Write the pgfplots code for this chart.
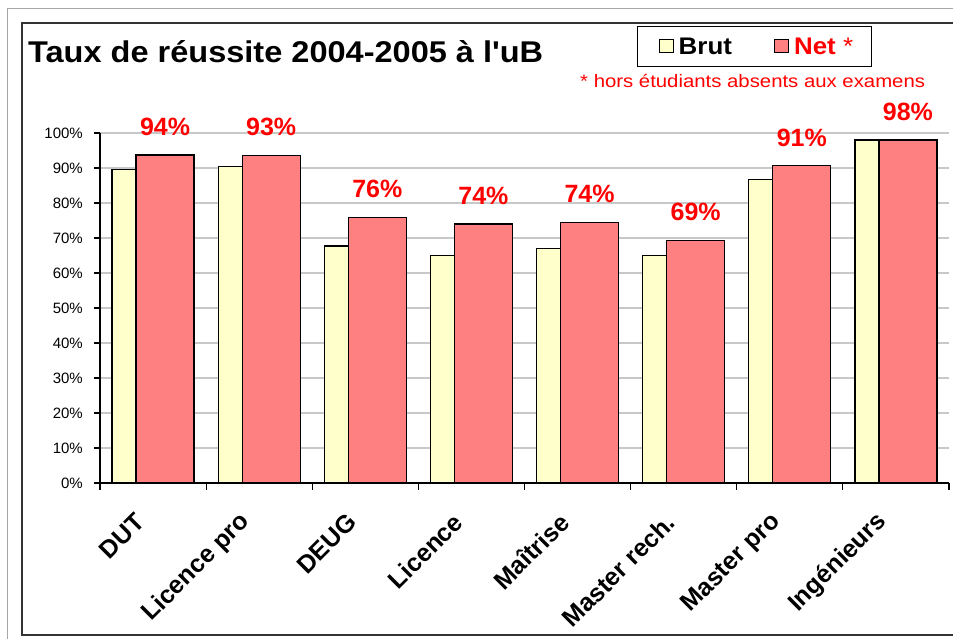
\documentclass[border=0pt]{standalone}
\usepackage{fontspec}
\setmainfont{Liberation Sans}
\usepackage{pgfplots}
\pgfplotsset{compat=1.18}
\definecolor{brut}{HTML}{FFFFCC}
\definecolor{net}{HTML}{FF8080}
\definecolor{gridc}{HTML}{C8C8C8}
\begin{document}
\begin{tikzpicture}
\useasboundingbox (0,0) rectangle (953pt,639pt);
\fill[white] (0,0) rectangle (953pt,639pt);
\draw[gray!70, line width=1pt] (7pt,0) -- (7pt,630pt) -- (960pt,630pt);
\draw[black!80, line width=1.6pt] (960pt,4pt) -- (22pt,4pt) -- (22pt,616pt) -- (960pt,616pt);
\node[anchor=base west, inner sep=0pt, font=\fontsize{30}{30}\selectfont\bfseries] at (28pt,576pt) {\scalebox{1.084}[1]{Taux de réussite 2004-2005 à l\textquotesingle uB}};
\node[anchor=base west, inner sep=0pt, text=red, font=\fontsize{18}{18}\selectfont] at (580pt,551pt) {\scalebox{1.13}[1]{* hors étudiants absents aux examens}};
\begin{axis}[
  at={(100pt,156pt)}, anchor=south west,
  scale only axis, width=849pt, height=350pt,
  xmin=-0.5, xmax=7.5, ymin=0, ymax=100,
  axis x line*=bottom, axis y line*=left,
  axis line style={line width=1.3pt, black},
  ytick={0,10,...,100},
  yticklabel={\pgfmathprintnumber{\tick}\%},
  /pgf/number format/assume math mode=true,
  yticklabel style={font=\fontsize{15}{15}\selectfont, inner sep=0pt, xshift=-11pt},
  ymajorgrids, grid style={gridc, line width=1.2pt},
  tick align=outside,
  major tick length=6pt,
  minor tick length=7pt,
  tick style={black, line width=1.2pt},
  xtick={0,...,7},
  xticklabels={DUT, Licence pro, DEUG, Licence, Maîtrise, Master rech., Master pro, Ingénieurs},
  major x tick style={draw=none},
  minor xtick={-0.5,0.5,...,7.5},
  minor x tick style={black, line width=1.2pt},
  xticklabel style={xshift=-13pt, yshift=-29pt, rotate=45, anchor=east, inner sep=0pt, font=\fontsize{25}{25}\selectfont\bfseries},
  clip=false,
  legend style={at={(0.6325,1.3057)}, anchor=north west, draw=black, line width=1.2pt,
    font=\fontsize{24}{24}\selectfont\bfseries, legend columns=2,
    inner xsep=13pt, inner ysep=9pt,
    nodes={inner xsep=5pt, inner ysep=2pt},
    /tikz/every even column/.append style={column sep=29pt}},
  legend image code/.code={\path (0pt,0pt); \draw[#1, line width=1pt] (8pt,-6pt) rectangle (22pt,7pt);},
]
\addplot[ybar, bar width=0.226, bar shift=-0.273, fill=brut, draw=black, line width=1.2pt]
  coordinates {(0,89.5) (1,90.4) (2,67.7) (3,65.1) (4,67.0) (5,65.0) (6,86.8) (7,98.0)};
\addlegendentry{\scalebox{1.08}[1]{Brut}}
\addplot[ybar, bar width=0.547, bar shift=0.113, fill=net, draw=black, line width=1.2pt,
  nodes near coords, point meta=explicit symbolic,
  nodes near coords style={anchor=south, inner sep=0pt, xshift=12pt, yshift=19pt, text=red, font=\fontsize{25}{25}\selectfont\bfseries}]
  coordinates {(0,93.7)[94\%] (1,93.5)[93\%] (2,75.9)[76\%] (3,74.0)[74\%] (4,74.4)[74\%] (5,69.2)[69\%] (6,90.6)[91\%] (7,98.0)[98\%]};
\addlegendentry{\scalebox{1.08}[1]{\textcolor{red}{Net} \textcolor{red}{\mdseries *}}}
\end{axis}
\end{tikzpicture}
\end{document}
